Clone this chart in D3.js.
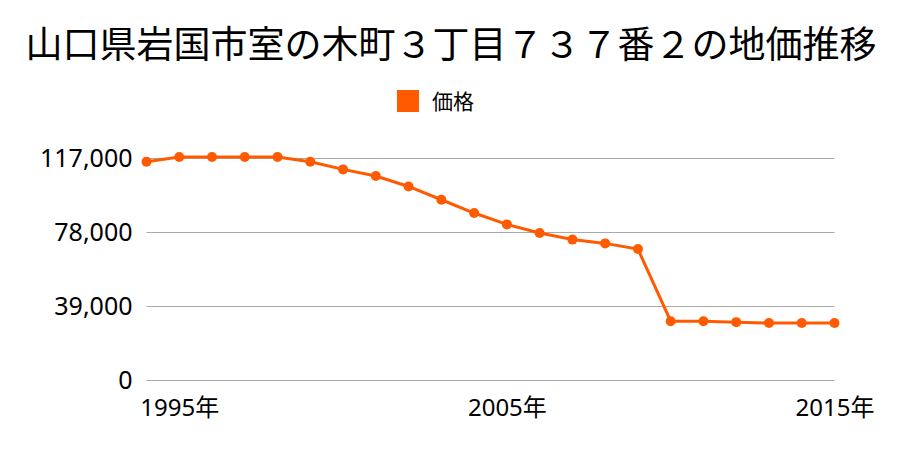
<!DOCTYPE html>
<html><head><meta charset="utf-8">
<script src="https://cdn.jsdelivr.net/npm/d3@7"></script>
<style>body{margin:0;background:#fff}svg{display:block}text{font-family:"Noto Sans CJK JP","Noto Sans",sans-serif}</style>
</head><body><svg id="c" width="900" height="450"></svg>
<script>
const title = "山口県岩国市室の木町３丁目７３７番２の地価推移";
const seriesName = "価格";
const years = [1994,1995,1996,1997,1998,1999,2000,2001,2002,2003,2004,2005,2006,2007,2008,2009,2010,2011,2012,2013,2014,2015];
const prices = [115000,117500,117500,117500,117500,115000,111000,107500,102000,95000,88000,82000,77500,74000,72000,69000,31000,31000,30500,30000,30000,30000];
const yTicks = [0,39000,78000,117000];
const xTicks = [1995,2005,2015];
const color = "#ff5a00";

const svg = d3.select("#c");
const x = d3.scaleLinear().domain([1994,2015]).range([146.5,834.5]);
const y = d3.scaleLinear().domain([0,117000]).range([380,158]);

svg.append("text").attr("x",451).attr("y",58).attr("text-anchor","middle")
  .attr("font-size",37).attr("fill","#000").text(title);

svg.append("rect").attr("x",397).attr("y",90).attr("width",22).attr("height",22).attr("fill",color);
svg.append("text").attr("x",432).attr("y",109).attr("font-size",21).attr("fill","#000").text(seriesName);

const yAxis = d3.axisLeft(y).tickValues(yTicks).tickSize(-(834.5-146.5)).tickFormat(d3.format(","));
const gy = svg.append("g").attr("transform","translate(146.5,0)").call(yAxis);
gy.select(".domain").remove();
gy.selectAll(".tick line").attr("stroke","#aaa").attr("stroke-width",1);
gy.selectAll(".tick text").attr("x",-14).attr("font-size",25).attr("fill","#000")
  .style("font-family","'Noto Sans','Noto Sans CJK JP',sans-serif");

const xAxis = d3.axisBottom(x).tickValues(xTicks).tickSize(0).tickFormat(d=>d+"年");
const gx = svg.append("g").attr("transform","translate(0,380)").call(xAxis);
gx.select(".domain").remove();
gx.selectAll(".tick text").attr("dy",0).attr("y",36).attr("font-size",24).attr("fill","#000")
  .style("font-family","'Noto Sans','Noto Sans CJK JP',sans-serif");

const data = years.map((yr,i)=>({yr,v:prices[i]}));
svg.append("path").datum(data).attr("fill","none").attr("stroke",color).attr("stroke-width",3)
  .attr("d",d3.line().x(d=>x(d.yr)).y(d=>y(d.v)));
svg.selectAll("circle.p").data(data).enter().append("circle").attr("class","p")
  .attr("cx",d=>x(d.yr)).attr("cy",d=>y(d.v)).attr("r",5).attr("fill",color);
</script></body></html>
